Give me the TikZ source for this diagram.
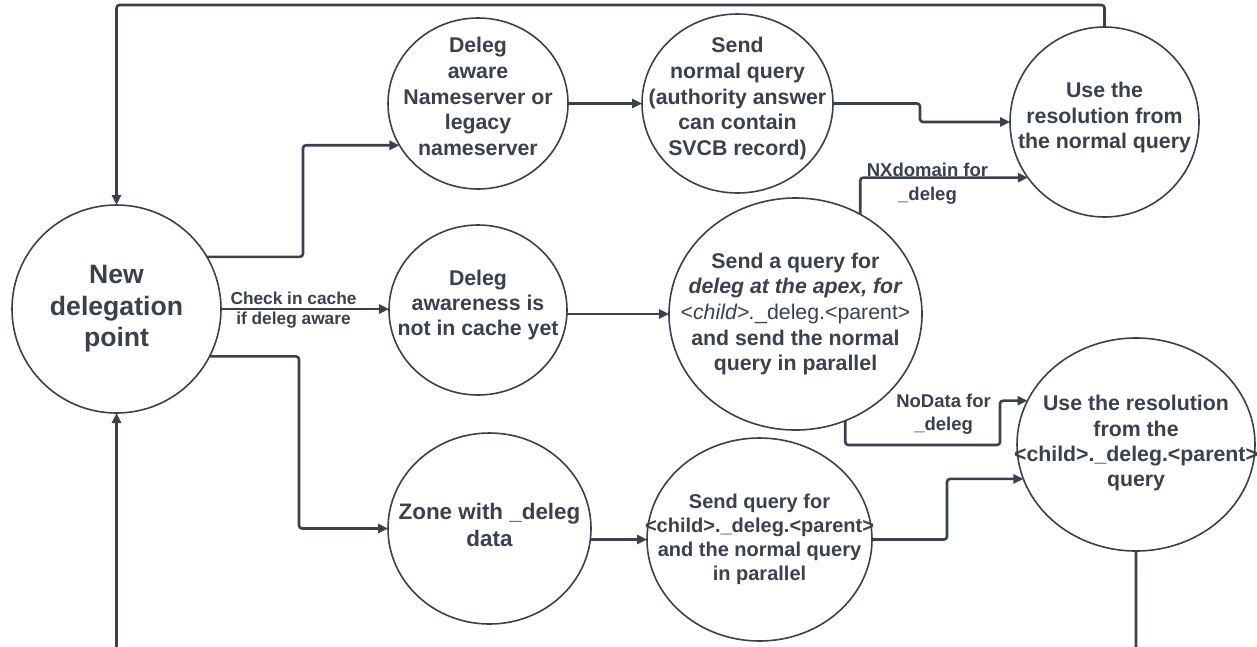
\documentclass[tikz,border=0pt]{standalone}
\usepackage{fontspec}
\setmainfont{Liberation Sans}
\usetikzlibrary{arrows.meta,shapes.geometric,calc}
\definecolor{ink}{HTML}{3A414C}
% #1 raise of first baseline above centre, #2 font size, #3 line skip, #4 lines
\newcommand{\ctx}[4]{\makebox[0pt]{\raisebox{#1pt}[0pt][0pt]{\fontsize{#2pt}{#3pt}\selectfont\begin{tabular}[t]{@{}c@{}}#4\end{tabular}}}}
\newcommand{\ltx}[3]{\fontsize{#1pt}{#2pt}\selectfont\begin{tabular}[t]{@{}c@{}}#3\end{tabular}}
\tikzset{
  circ/.style={ellipse, draw=ink, line width=1.6pt, inner sep=0pt, outer sep=0pt, text=ink, font=\bfseries},
  conn/.style={draw=ink, line width=2.6pt, rounded corners=3pt, -{Triangle[length=10pt,width=9pt]}},
  lbl/.style={text=ink, font=\bfseries, inner sep=0pt, anchor=base}
}
\begin{document}
\begin{tikzpicture}[x=1pt,y=-1pt]
\useasboundingbox[fill=white] (0,0) rectangle (1257,646);

\node[circ, minimum width=209pt, minimum height=208pt] (c1) at (116.5,309)
  {\ctx{25.7}{26.6}{31.7}{New\\delegation\\point}};
\node[circ, minimum width=180pt, minimum height=171pt] (c2) at (478,103.5)
  {\ctx{50.8}{21.3}{25.75}{Deleg\\aware\\Nameserver or\\legacy\\nameserver}};
\node[circ, minimum width=191pt, minimum height=179pt] (c3) at (737.5,103.5)
  {\ctx{50.8}{21.3}{25.75}{Send\\normal query\\(authority answer\\can contain\\SVCB record)}};
\node[circ, minimum width=189pt, minimum height=190pt] (c4) at (1104.5,122)
  {\ctx{24.7}{21.3}{25.7}{Use the\\resolution from\\the normal query}};
\node[circ, minimum width=178pt, minimum height=170pt] (c5) at (478,310)
  {\ctx{25}{21.3}{25.4}{Deleg\\awareness is\\not in cache yet}};
\node[circ, minimum width=253pt, minimum height=232pt] (c6) at (795.5,314)
  {\ctx{45.7}{21.3}{25.6}{Send a query for\\\textit{deleg at the apex, for}\\{\mdseries<\textit{child>.}\_deleg.<parent>}\\and send the normal\\query in parallel}};
\node[circ, minimum width=238pt, minimum height=213pt] (c7) at (1136,444.5)
  {\ctx{33.8}{21.3}{25.4}{Use the resolution\\from the\\<child>.\_deleg.<parent>\\query}};
\node[circ, minimum width=203pt, minimum height=191pt] (c8) at (489.5,528.5)
  {\ctx{9.2}{22.4}{26.7}{Zone with \_deleg\\data}};
\node[circ, minimum width=225pt, minimum height=203pt] (c9) at (759.5,539.5)
  {\ctx{31.2}{20}{24.1}{Send query for\\<child>.\_deleg.<parent>\\and the normal query\\in parallel}};

\coordinate (top) at (116.5,5);
\coordinate (bot) at (116.5,670);
\coordinate (x3) at (303,0);
\coordinate (x5) at (299,0);
\coordinate (x7) at (920,0);
\coordinate (x12) at (947,0);
\coordinate (n1) at (1000,445);

\draw[conn] (c4.north) |- (top) -- (c1.north);
\draw[conn] (c7.south) |- (bot) -- (c1.south);
\draw[conn] (c1.30) -| (x3 |- c2.208) -- (c2.208);
\draw[conn] (c1.east) -- (c1.east -| c5.west);
\draw[conn] (c1.-27) -| (x5 |- c8.west) -- (c8.west);
\draw[conn] (c2.east) -- (c2.east -| c3.west);
\draw[conn] (c3.east) -| (x7 |- c4.west) -- (c4.west);
\draw[conn] (c6.west -| c5.east) -- (c6.west);
\draw[conn] (c6.57.7) |- (c4.216.3);
\draw[conn] (c6.-65.1) |- (n1) |- (c7.158.7);
\draw[conn] (c9.west -| c8.east) -- (c9.west);
\draw[conn] (c9.east) -| (x12 |- c7.197.6) -- (c7.197.6);

\node[lbl] (l1) at (293.5,304) {\ltx{17.3}{20.3}{Check in cache\\if deleg aware}};
\node[lbl] (l2) at (927.5,176.7) {\ltx{18.5}{23.3}{NXdomain for\\\_deleg}};
\node[lbl] (l3) at (943.6,407.3) {\ltx{18.5}{23.3}{NoData for\\\_deleg}};
\end{tikzpicture}
\end{document}
